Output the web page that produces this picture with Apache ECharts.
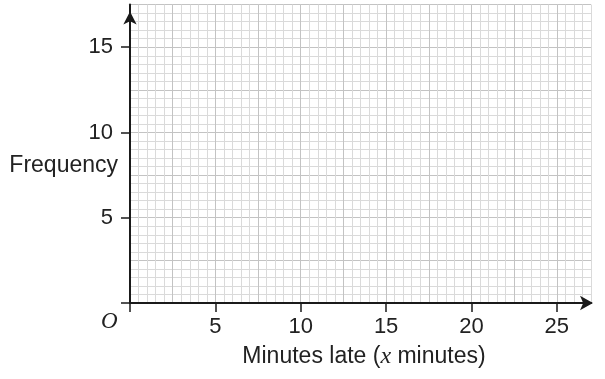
<!DOCTYPE html>
<html>
<head>
<meta charset="utf-8">
<script src="https://cdn.jsdelivr.net/npm/echarts@6/dist/echarts.min.js"></script>
<style>
html,body{margin:0;padding:0;background:#fff;}
#chart{width:605px;height:379px;}
</style>
</head>
<body>
<div id="chart"></div>
<script>
// Axis ranges and tick labels
var xRange = [0, 27];
var yRange = [0, 17.5];
var xTickValues = [0, 5, 10, 15, 20, 25];
var yTickValues = [0, 5, 10, 15];
var xTickLabels = [5, 10, 15, 20, 25];
var yTickLabels = [5, 10, 15];
var minorStep = 0.5;
var majorStep = 2.5;
var labelStep = 5;
var xTitle = 'Minutes late ({i|x} minutes)';
var yTitle = 'Frequency';
var originLabel = 'O';
var seriesValues = []; // blank grid: no plotted data

var FONT = 'Liberation Sans';
var gridPos = {left: 130, right: 14, top: 4.6, bottom: 76, outerBoundsMode: 'none', containLabel: false};
var minorColor = '#dadada';
var majorColor = '#c3c3c3';
var axisColor = '#1a1a1a';

function gridAxis(range, step, color, pos, idx, showMax) {
  return {
    type: 'value', gridIndex: idx, position: pos,
    min: range[0], max: range[1], interval: step,
    axisLine: {show: false}, axisTick: {show: false}, axisLabel: {show: false},
    splitLine: {show: true, showMinLine: true, showMaxLine: showMax, lineStyle: {color: color, width: 1}},
    z: 0
  };
}

var chart = echarts.init(document.getElementById('chart'));
chart.setOption({
  animation: false,
  grid: [
    Object.assign({}, gridPos),
    Object.assign({}, gridPos)
  ],
  xAxis: [
    gridAxis(xRange, minorStep, minorColor, 'bottom', 0, true),
    gridAxis(xRange, majorStep, majorColor, 'top', 1, false),
    {
      type: 'value', gridIndex: 1, position: 'bottom',
      min: xRange[0], max: xRange[1], interval: labelStep,
      axisLine: {show: true, lineStyle: {color: axisColor, width: 2},
        symbol: ['none', 'arrow'], symbolSize: [11, 13], symbolOffset: [0, 2]},
      axisTick: {show: true, inside: false, length: 9, customValues: xTickValues,
        lineStyle: {color: axisColor, width: 1.5}},
      axisLabel: {show: true, margin: 13, fontFamily: FONT, fontSize: 22, color: '#222',
        customValues: xTickLabels},
      splitLine: {show: false},
      name: xTitle, nameLocation: 'middle', nameGap: 42,
      nameTextStyle: {fontFamily: FONT, fontSize: 23, color: '#222', padding: [0, 0, 0, 7],
        rich: {i: {fontFamily: 'Liberation Serif', fontStyle: 'italic', fontSize: 24, color: '#222'}}},
      z: 5
    }
  ],
  yAxis: [
    gridAxis(yRange, minorStep, minorColor, 'left', 0, true),
    gridAxis(yRange, majorStep, majorColor, 'right', 1, true),
    {
      type: 'value', gridIndex: 1, position: 'left',
      min: yRange[0], max: yRange[1], interval: labelStep,
      axisLine: {show: true, lineStyle: {color: axisColor, width: 2},
        symbol: ['none', 'arrow'], symbolSize: [10, 13], symbolOffset: [0, -7]},
      axisTick: {show: true, inside: false, length: 9, customValues: yTickValues,
        lineStyle: {color: axisColor, width: 1.5}},
      axisLabel: {show: true, margin: 17, fontFamily: FONT, fontSize: 22, color: '#222',
        customValues: yTickLabels},
      splitLine: {show: false},
      z: 5
    }
  ],
  graphic: [{
    type: 'text', left: 101, top: 310, z: 10,
    style: {text: originLabel, font: 'italic 23px "Liberation Serif"', fill: '#222'}
  }, {
    type: 'text', right: 605 - 118, top: 154, z: 10,
    style: {text: yTitle, font: '23px "Liberation Sans"', fill: '#222'}
  }],
  series: [{
    type: 'line', xAxisIndex: 2, yAxisIndex: 2, data: seriesValues, showSymbol: false
  }]
});
</script>
</body>
</html>
